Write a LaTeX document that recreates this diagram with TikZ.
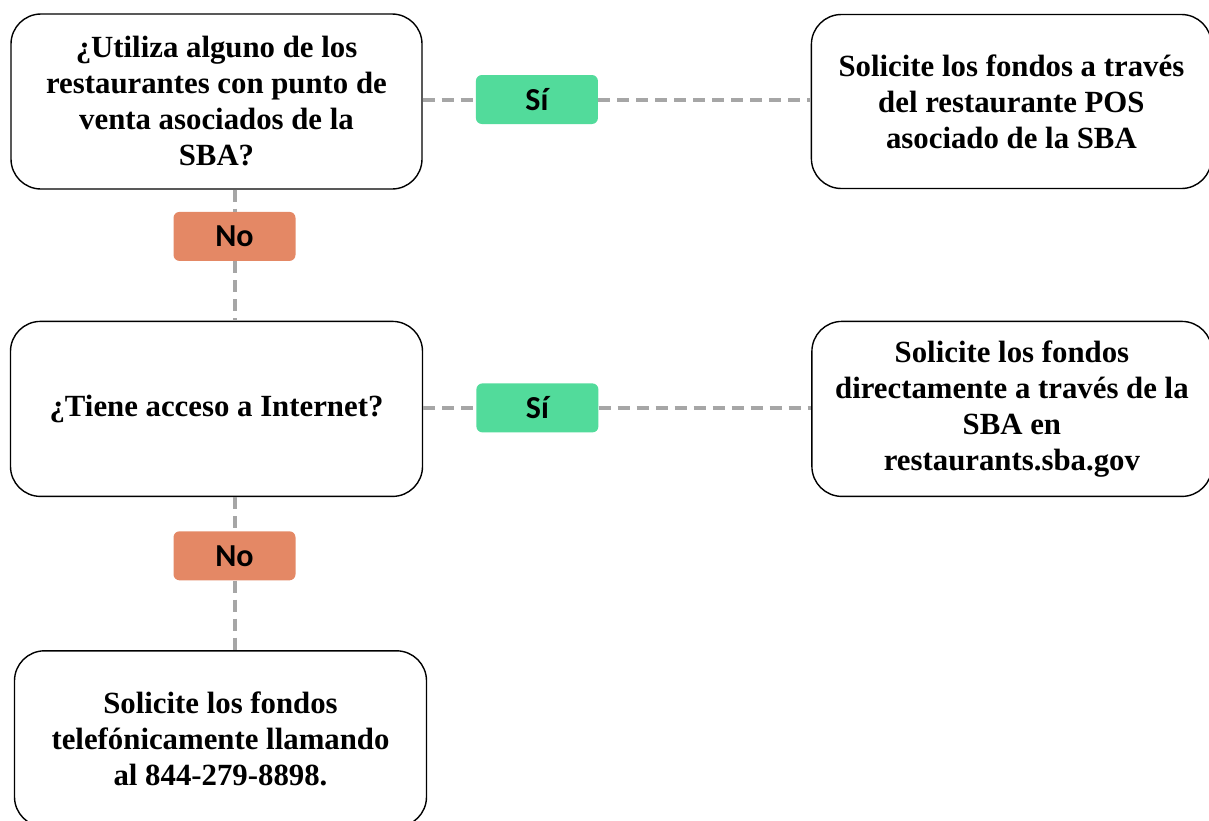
\documentclass[tikz,border=0pt]{standalone}
\usepackage{fontspec}
\setmainfont{Liberation Serif}
\newfontfamily\tagfont{Carlito}
\usetikzlibrary{positioning}

\definecolor{siGreen}{RGB}{82,219,155}
\definecolor{noOrange}{RGB}{228,136,101}
\definecolor{linkGray}{RGB}{166,166,166}

\tikzset{
  box/.style={draw, line width=1.4pt, rounded corners=30pt, align=center,
              inner sep=0pt, font=\fontsize{30.8}{36}\selectfont\bfseries},
  tag/.style={rounded corners=6pt, minimum width=122pt, minimum height=49pt,
              inner sep=0pt, font=\tagfont\fontsize{32}{36}\selectfont\bfseries},
  yes/.style={tag, fill=siGreen},
  no/.style={tag, fill=noOrange},
  link/.style={draw=linkGray, line width=4pt, dash pattern=on 12pt off 7pt},
}

\begin{document}
\begin{tikzpicture}[x=1pt, y=-1pt]
  \useasboundingbox (0,0) rectangle (1209,820);

  % preguntas y respuestas
  \node[box, minimum width=411pt, minimum height=175pt] (q1) at (216.5,101.5)
    {¿Utiliza alguno de los\\restaurantes con punto de\\venta asociados de la\\SBA?};
  \node[box, minimum width=400pt, minimum height=174pt] (a1) [right=388pt of q1]
    {Solicite los fondos a través\\del restaurante POS\\asociado de la SBA};
  \node[box, minimum width=412pt, minimum height=175pt] (q2) [below=131pt of q1]
    {¿Tiene acceso a Internet?};
  \node[box, minimum width=400pt, minimum height=175pt] (a2) [right=388pt of q2]
    {Solicite los fondos\\directamente a través de la\\SBA en\\restaurants.sba.gov};
  \node[box, minimum width=412pt, minimum height=176pt] (a3) [below=153pt of q2, xshift=4pt]
    {Solicite los fondos\\telefónicamente llamando\\al 844-279-8898.};

  % etiquetas
  \node[yes] (si1) [right=53pt of q1, yshift=2pt] {Sí};
  \node[yes] (si2) [right=53pt of q2, yshift=1pt] {Sí};
  \node[no]  (no1) [below=22pt of q1, xshift=18pt] {No};
  \node[no]  (no2) [below=34pt of q2, xshift=18pt] {No};

  % conectores
  \path[link] (q1.east |- si1) -- (si1.west)
              (si1.east) -- (a1.west |- si1)
              (q2.east |- si2) -- (si2.west)
              (si2.east) -- (a2.west |- si2)
              (no1 |- q1.south) -- (no1.north)
              (no1.south) -- (no1 |- q2.north)
              (no2 |- q2.south) -- (no2.north)
              (no2.south) -- (no2 |- a3.north);
\end{tikzpicture}
\end{document}
